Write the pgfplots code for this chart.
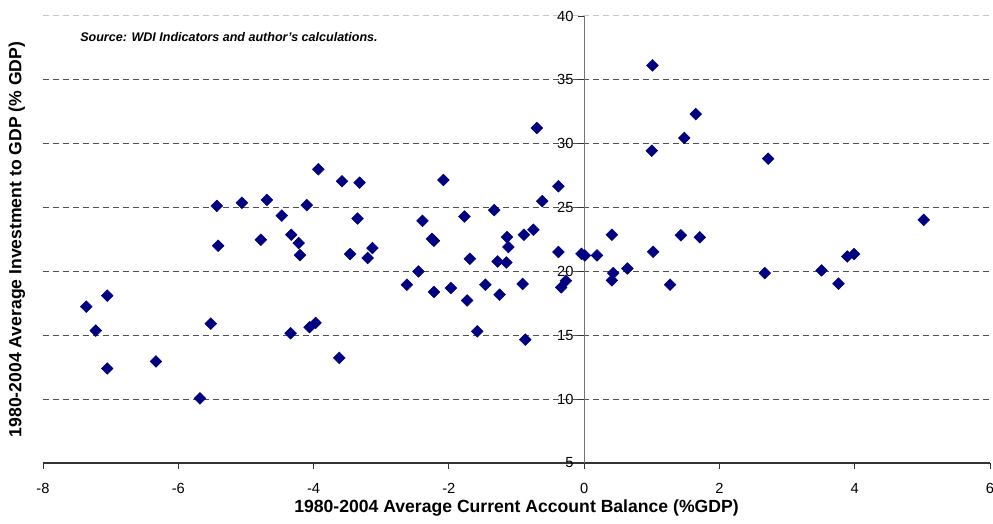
\documentclass[border=0pt]{standalone}
\usepackage{pgfplots}
\pgfplotsset{compat=1.18}
\usepackage{fontspec}
\setmainfont{Liberation Sans}
\definecolor{navy}{HTML}{000080}
\definecolor{gridgray}{HTML}{505050}

\begin{document}
\begin{tikzpicture}
\begin{axis}[
    name=ax,
    scale only axis,
    width=710.25pt, height=335.25pt,
    xmin=-8, xmax=6, ymin=5, ymax=40,
    axis x line=bottom, axis y line=center,
    x axis line style={-, draw=black!80, line width=0.8pt},
    y axis line style={-, draw=black!55, line width=0.8pt},
    hide obscured x ticks=false, hide obscured y ticks=false,
    xtick={-8,-6,...,6}, ytick={5,10,...,35},
    extra y ticks={40},
    extra y tick style={major grid style={draw=black!22}},
    ymajorgrids,
    grid style={draw=gridgray, dash pattern=on 4.5pt off 3pt, line width=0.75pt},
    tick align=outside, major tick length=4.5pt,
    tick style={draw=black!80, line width=0.6pt},
    ticklabel style={font=\fontsize{11}{13}\selectfont},
    xticklabel style={yshift=-7pt},
    /pgf/number format/assume math mode=true,
    xlabel={1980-2004 Average Current Account Balance (\%GDP)},
    ylabel={1980-2004 Average Investment to GDP (\% GDP)},
    every axis x label/.style={at={(axis description cs:0.5,-0.1007)}, anchor=center,
        font=\bfseries\fontsize{13.2}{15}\selectfont},
    every axis y label/.style={at={(axis description cs:-0.0275,0.5)}, rotate=90, anchor=center,
        font=\bfseries\fontsize{13.2}{15}\selectfont},
    clip=false,
]
\addplot[only marks, mark=square*, mark size=3.1pt,
    mark options={rotate=45, fill=navy, draw=navy}] coordinates {
(-7.36,17.24) (-7.22,15.37) (-7.05,18.10) (-7.05,12.40) (-6.33,12.95)
(-5.68,10.06) (-5.52,15.91) (-5.43,25.13) (-5.41,22.01) (-5.06,25.37)
(-4.78,22.48) (-4.69,25.60) (-4.47,24.37) (-4.33,22.87) (-4.22,22.22)
(-4.20,21.28) (-4.34,15.16) (-4.10,25.19) (-4.06,15.63) (-3.97,15.97)
(-3.93,28.00) (-3.62,13.23) (-3.58,27.06) (-3.46,21.36) (-3.32,26.95)
(-3.35,24.14) (-3.20,21.05) (-3.13,21.83) (-2.62,18.96) (-2.45,20.00)
(-2.39,23.96) (-2.25,22.55) (-2.22,22.40) (-2.22,18.39) (-2.08,27.16)
(-1.97,18.70) (-1.77,24.30) (-1.73,17.73) (-1.69,20.99) (-1.58,15.31)
(-1.46,18.96) (-1.33,24.80) (-1.28,20.78) (-1.25,18.18) (-1.15,20.70)
(-1.14,22.69) (-1.12,21.91) (-0.91,19.02) (-0.89,22.87) (-0.87,14.66)
(-0.75,23.26) (-0.70,31.23) (-0.62,25.50) (-0.38,26.67) (-0.38,21.52)
(-0.34,18.75) (-0.27,19.27) (-0.04,21.38) (0.01,21.25) (0.19,21.25)
(0.41,22.87) (0.41,19.30) (0.43,19.87) (0.64,20.23) (1.01,36.13)
(1.00,29.45) (1.02,21.54) (1.27,18.96) (1.43,22.83) (1.48,30.45)
(1.65,32.32) (1.71,22.67) (2.67,19.87) (2.72,28.83) (3.51,20.08)
(3.76,19.04) (3.89,21.17) (3.99,21.36) (5.02,24.04)
};
\node[anchor=west, inner sep=0pt, font=\bfseries\itshape\fontsize{9.4}{11}\selectfont]
    at (axis description cs:0.0391,0.952) {Source: WDI Indicators and author's calculations.};
\end{axis}
\pgfresetboundingbox
\path[use as bounding box] ([xshift=-32.25pt,yshift=-45.75pt]ax.south west)
    rectangle ([xshift=2.25pt,yshift=12pt]ax.north east);
\end{tikzpicture}
\end{document}
